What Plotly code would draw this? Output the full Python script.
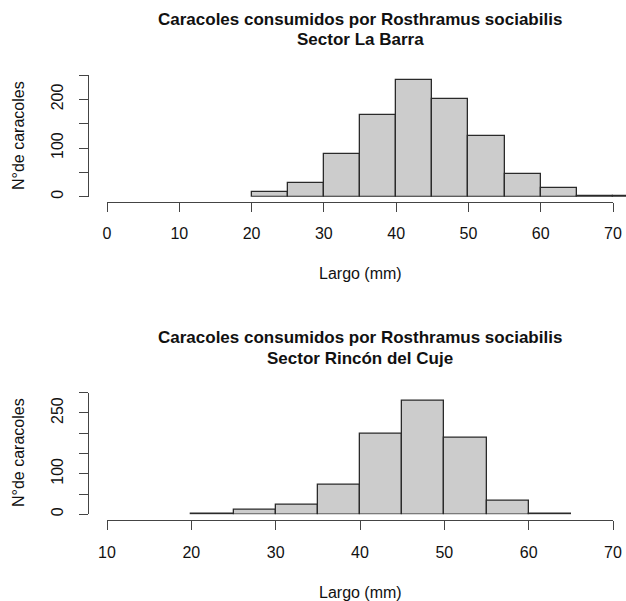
import plotly.graph_objects as go

# ---- data ----
bin_width = 5
bins_barra = [20, 25, 30, 35, 40, 45, 50, 55, 60, 65, 70]
counts_barra = [9, 28, 88, 168, 240, 200, 124, 46, 17, 2, 2]
bins_cuje = [20, 25, 30, 35, 40, 45, 50, 55, 60]
counts_cuje = [2, 11, 24, 72, 200, 280, 190, 34, 2]

title_main = "Caracoles consumidos por Rosthramus sociabilis"
sector_barra = "Sector La Barra"
sector_cuje = "Sector Rincón del Cuje"
xlabel = "Largo (mm)"
ylabel = "N°de caracoles"

xticks_barra = [0, 10, 20, 30, 40, 50, 60, 70]
xticks_cuje = [10, 20, 30, 40, 50, 60, 70]
yticks_barra = [0, 50, 100, 150, 200, 250]
ytext_barra = ["0", "", "100", "", "200", ""]
yticks_cuje = [0, 50, 100, 150, 200, 250, 300]
ytext_cuje = ["0", "", "100", "", "", "250", ""]

# ---- layout helpers ----
W, H = 626, 601
def fx(px):
    return px / W
def fy(py):
    return 1 - py / H

FONT = "Liberation Sans, Arial, sans-serif"
TXT = "#111111"
AX = "#444444"
bar_style = dict(color="#cccccc", line=dict(color="#2a2a2a", width=1.3))

fig = go.Figure()
fig.add_trace(go.Bar(x=[b + bin_width / 2 for b in bins_barra], y=counts_barra,
                     width=bin_width, marker=bar_style, xaxis="x", yaxis="y",
                     showlegend=False, hoverinfo="skip"))
# empty trace so the display x axis of the top panel is drawn
fig.add_trace(go.Scatter(x=[], y=[], xaxis="x3", yaxis="y", showlegend=False))
fig.add_trace(go.Bar(x=[b + bin_width / 2 for b in bins_cuje], y=counts_cuje,
                     width=bin_width, marker=bar_style, xaxis="x2", yaxis="y2",
                     showlegend=False, hoverinfo="skip"))

tick_common = dict(ticks="outside", ticklen=9, tickwidth=1, tickcolor=AX,
                   showline=True, linecolor=AX, linewidth=1,
                   showgrid=False, zeroline=False, automargin=False,
                   tickfont=dict(family=FONT, size=16, color=TXT))

fig.update_layout(
    width=W, height=H,
    margin=dict(l=0, r=0, t=0, b=0, pad=0, autoexpand=False),
    paper_bgcolor="white", plot_bgcolor="rgba(0,0,0,0)", bargap=0,
    xaxis=dict(domain=[fx(107), 1.0], range=[0, 71.8], visible=False,
               anchor="y"),
    xaxis3=dict(domain=[fx(107), fx(613)], range=[0, 70], anchor="free",
                position=fy(201.7), tickvals=xticks_barra,
                ticklabelstandoff=8, **tick_common),
    yaxis=dict(domain=[fy(196.7), fy(75)], range=[0, 250], anchor="free",
               position=fx(88), tickvals=yticks_barra, ticktext=ytext_barra,
               tickangle=-90, ticklabelstandoff=10, **tick_common),
    xaxis2=dict(domain=[fx(107), fx(613)], range=[10, 70], anchor="free",
                position=fy(520), tickvals=xticks_cuje,
                ticklabelstandoff=9, **tick_common),
    yaxis2=dict(domain=[fy(514.3), fy(392.7)], range=[0, 300], anchor="free",
                position=fx(88), tickvals=yticks_cuje, ticktext=ytext_cuje,
                tickangle=-90, ticklabelstandoff=10, **tick_common),
)

def ann(text, x, y, size=16, bold=False, angle=0):
    fig.add_annotation(text=f"<b>{text}</b>" if bold else text,
                       x=fx(x), y=fy(y), xref="paper", yref="paper",
                       xanchor="center", yanchor="middle", showarrow=False,
                       textangle=angle,
                       font=dict(family=FONT, size=size, color=TXT))

ann(title_main, 360, 20, 17, True)
ann(sector_barra, 360, 40, 17, True)
ann(xlabel, 360, 273)
ann(ylabel, 18, 136, angle=-90)
ann(title_main, 360, 338, 17, True)
ann(sector_cuje, 360, 358, 17, True)
ann(xlabel, 360, 592)
ann(ylabel, 18, 453, angle=-90)

fig.write_html("out.html")
